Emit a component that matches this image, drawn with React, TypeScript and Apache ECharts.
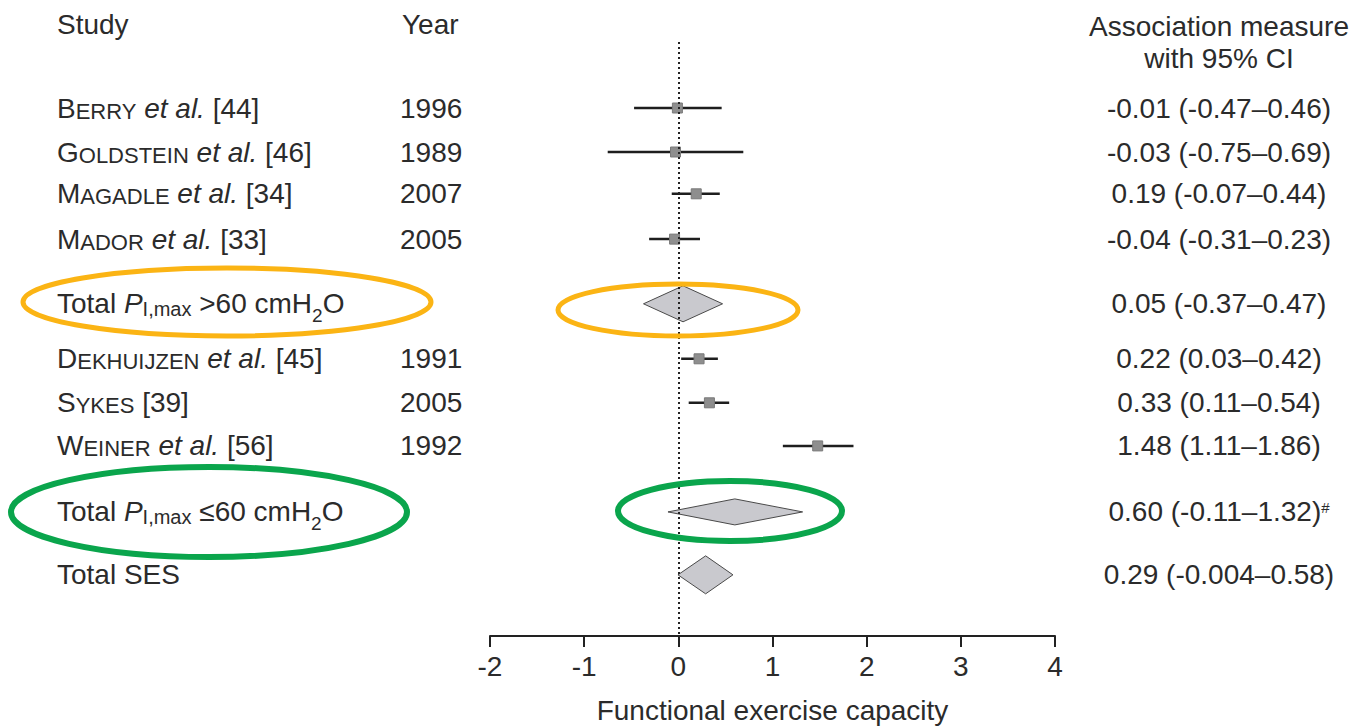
import React, { useEffect, useRef } from "react";
import * as echarts from "echarts";

// ---- Data ----
const rowLabels = [
  "Berry et al. [44]",
  "Goldstein et al. [46]",
  "Magadle et al. [34]",
  "Mador et al. [33]",
  "Total PI,max >60 cmH2O",
  "Dekhuijzen et al. [45]",
  "Sykes [39]",
  "Weiner et al. [56]",
  "Total PI,max ≤60 cmH2O",
  "Total SES",
];
const years = ["1996", "1989", "2007", "2005", "", "1991", "2005", "1992", "", ""];
const estimates = [-0.01, -0.03, 0.19, -0.04, 0.05, 0.22, 0.33, 1.48, 0.6, 0.29];
const lowerCI = [-0.47, -0.75, -0.07, -0.31, -0.37, 0.03, 0.11, 1.11, -0.11, -0.004];
const upperCI = [0.46, 0.69, 0.44, 0.23, 0.47, 0.42, 0.54, 1.86, 1.32, 0.58];
const ciLabels = [
  "-0.01 (-0.47–0.46)",
  "-0.03 (-0.75–0.69)",
  "0.19 (-0.07–0.44)",
  "-0.04 (-0.31–0.23)",
  "0.05 (-0.37–0.47)",
  "0.22 (0.03–0.42)",
  "0.33 (0.11–0.54)",
  "1.48 (1.11–1.86)",
  "0.60 (-0.11–1.32)#",
  "0.29 (-0.004–0.58)",
];
const rowKinds = ["study", "study", "study", "study", "total", "study", "study", "study", "total", "total"];
const xAxisTitle = "Functional exercise capacity";

// ---- Layout ----
const rowPos = [1, 2, 2.95, 3.98, 5.45, 6.7, 7.7, 8.68, 10.18, 11.61];
const diamondHalf = [0, 0, 0, 0, 18, 0, 0, 0, 13, 19];
const FONT = "'Liberation Sans', Arial, sans-serif";
const TXT = "#2b2b2b";
const FS = 28;

const richStyles: any = {
  n: { fontSize: FS, fontFamily: FONT, fill: TXT, verticalAlign: "bottom" },
  cap: { fontSize: FS, fontFamily: FONT, fill: TXT, verticalAlign: "bottom" },
  sc: { fontSize: 22, fontFamily: FONT, fill: TXT, verticalAlign: "bottom" },
  it: { fontSize: FS, fontFamily: FONT, fill: TXT, fontStyle: "italic", verticalAlign: "bottom" },
  sub1: { fontSize: 20, fontFamily: FONT, fill: TXT, verticalAlign: "bottom", padding: [0, 0, -1, 0] },
  sub: { fontSize: 19, fontFamily: FONT, fill: TXT, verticalAlign: "bottom", padding: [0, 0, -7, 0] },
  sup: { fontSize: 15, fontFamily: FONT, fill: TXT, verticalAlign: "bottom", padding: [0, 0, 11, 0] },
};

function labelRich(s: string): string {
  const m = s.match(/^(\w)(\w+)( et al\.)? (\[\d+\])$/);
  if (m) {
    return (
      `{cap|${m[1]}}{sc|${m[2].toUpperCase()}}` +
      (m[3] ? `{n| }{it|et al.}` : "") +
      `{n| ${m[4]}}`
    );
  }
  const t = s.match(/^Total PI,max (.+) cmH2O$/);
  if (t) return `{n|Total }{it|P}{sub1|I,max}{n| ${t[1]} cmH}{sub|2}{n|O}`;
  return `{n|${s}}`;
}

function ciRich(s: string): string {
  if (s.endsWith("#")) return `{n|${s.slice(0, -1)}}{sup|#}`;
  return `{n|${s}}`;
}

export default function App() {
  const ref = useRef<HTMLDivElement>(null);
  useEffect(() => {
    if (!ref.current) return;
    const chart = echarts.init(ref.current, null, { renderer: "svg" });

    const markData = rowLabels.map((_, i) => [estimates[i], rowPos[i], lowerCI[i], upperCI[i], i]);
    const textData = rowLabels.map((_, i) => [0, rowPos[i], i]);

    chart.setOption({
      animation: false,
      backgroundColor: "#ffffff",
      grid: { left: 490, right: 300, top: 42, bottom: 90, outerBoundsMode: "none", containLabel: false },
      xAxis: {
        type: "value",
        position: "bottom",
        min: -2,
        max: 4,
        interval: 1,
        splitLine: { show: false },
        axisLine: { show: true, onZero: false, lineStyle: { color: "#222", width: 2 } },
        axisTick: { show: true, length: 11, lineStyle: { color: "#222", width: 2 } },
        axisLabel: { fontSize: FS, fontFamily: FONT, color: TXT, margin: 16 },
        name: xAxisTitle,
        nameLocation: "middle",
        nameGap: 60,
        nameTextStyle: { fontSize: FS, fontFamily: FONT, color: TXT },
      },
      yAxis: {
        type: "value",
        inverse: true,
        min: -0.5,
        max: 13,
        show: false,
      },
      series: [
        {
          type: "custom",
          data: markData,
          encode: { x: [0, 2, 3], y: 1 },
          renderItem: (params: any, api: any) => {
            const i = api.value(4);
            const c = api.coord([api.value(0), api.value(1)]);
            const l = api.coord([api.value(2), api.value(1)]);
            const h = api.coord([api.value(3), api.value(1)]);
            if (rowKinds[i] === "total") {
              const hh = diamondHalf[i];
              return {
                type: "polygon",
                shape: {
                  points: [
                    [l[0], c[1]],
                    [c[0], c[1] - hh],
                    [h[0], c[1]],
                    [c[0], c[1] + hh],
                  ],
                },
                style: { fill: "#c9c9ce", stroke: "#4a4a4a", lineWidth: 1 },
              };
            }
            const sq = 10;
            return {
              type: "group",
              children: [
                {
                  type: "line",
                  shape: { x1: l[0], y1: c[1], x2: h[0], y2: c[1] },
                  style: { stroke: "#1e1e1e", lineWidth: 2.5 },
                },
                {
                  type: "rect",
                  shape: { x: c[0] - sq / 2, y: c[1] - sq / 2, width: sq, height: sq },
                  style: { fill: "#8e8e8e", stroke: "#7a7a7a", lineWidth: 1 },
                },
              ],
            };
          },
          markLine: {
            silent: true,
            symbol: ["none", "none"],
            label: { show: false },
            lineStyle: { type: [2, 3], color: "#222", width: 2 },
            data: [{ xAxis: 0 }],
          },
          z: 3,
        },
        {
          type: "custom",
          data: textData,
          encode: { x: 0, y: 1 },
          renderItem: (params: any, api: any) => {
            const i = api.value(2);
            const y = api.coord([0, api.value(1)])[1];
            const children: any[] = [
              {
                type: "text",
                x: 57,
                y,
                style: {
                  text: labelRich(rowLabels[i]),
                  rich: richStyles,
                  fontSize: FS,
                  fontFamily: FONT,
                  fill: TXT,
                  align: "left",
                  verticalAlign: "middle",
                },
              },
              {
                type: "text",
                x: 1219,
                y,
                style: {
                  text: ciRich(ciLabels[i]),
                  rich: richStyles,
                  fontSize: FS,
                  fontFamily: FONT,
                  fill: TXT,
                  align: "center",
                  verticalAlign: "middle",
                },
              },
            ];
            if (years[i]) {
              children.push({
                type: "text",
                x: 400,
                y,
                style: {
                  text: years[i],
                  fontSize: FS,
                  fontFamily: FONT,
                  fill: TXT,
                  align: "left",
                  verticalAlign: "middle",
                },
              });
            }
            return { type: "group", children };
          },
          z: 4,
        },
      ],
      graphic: [
        {
          type: "text",
          left: 57,
          top: 10,
          style: { text: "Study", fontSize: FS, fontFamily: FONT, fill: TXT },
        },
        {
          type: "text",
          left: 402,
          top: 10,
          style: { text: "Year", fontSize: FS, fontFamily: FONT, fill: TXT },
        },
        {
          type: "text",
          x: 1219,
          y: 10,
          style: {
            text: "Association measure\nwith 95% CI",
            fontSize: FS,
            fontFamily: FONT,
            fill: TXT,
            align: "center",
            lineHeight: 32,
          },
        },
        {
          type: "ellipse",
          shape: { cx: 227, cy: 302, rx: 204, ry: 34 },
          style: { fill: "none", stroke: "#fbb414", lineWidth: 5 },
          z: 100,
        },
        {
          type: "ellipse",
          shape: { cx: 678, cy: 310, rx: 120, ry: 26 },
          style: { fill: "none", stroke: "#fbb414", lineWidth: 5 },
          z: 100,
        },
        {
          type: "ellipse",
          shape: { cx: 209, cy: 512, rx: 198, ry: 45 },
          style: { fill: "none", stroke: "#0aa54c", lineWidth: 6 },
          z: 100,
        },
        {
          type: "ellipse",
          shape: { cx: 730, cy: 511, rx: 112, ry: 30 },
          style: { fill: "none", stroke: "#0aa54c", lineWidth: 6 },
          z: 100,
        },
      ],
    });

    return () => chart.dispose();
  }, []);

  return (
    <div
      ref={ref}
      style={{ position: "absolute", left: 0, top: 0, width: 1355, height: 726, background: "#fff" }}
    />
  );
}
